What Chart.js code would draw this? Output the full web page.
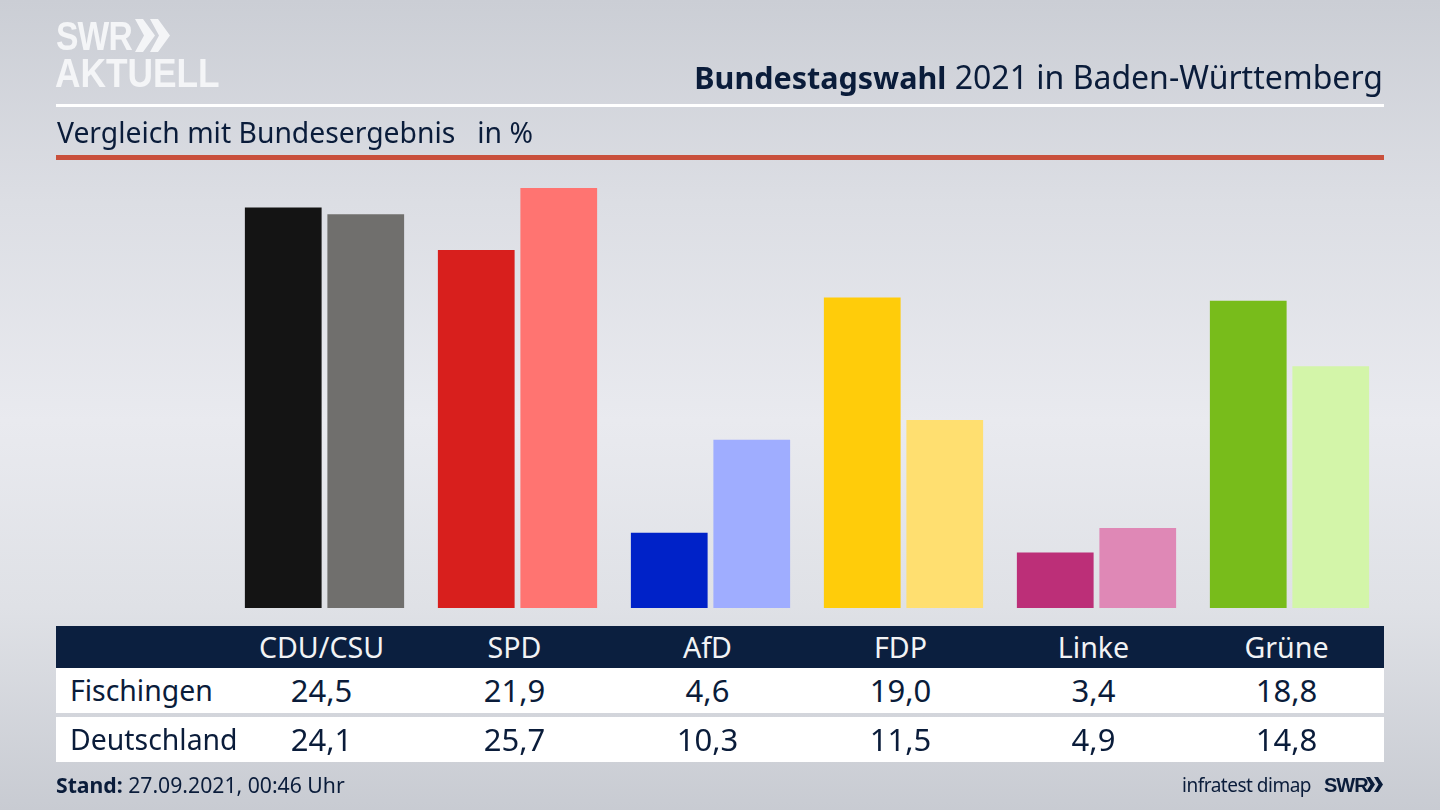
<!DOCTYPE html>
<html lang="de">
<head>
<meta charset="utf-8">
<title>Bundestagswahl 2021 in Baden-Württemberg</title>
<script src="https://cdn.jsdelivr.net/npm/chart.js@4"></script>
<style>
  html, body { margin: 0; padding: 0; }
  body {
    width: 1440px; height: 810px; overflow: hidden; position: relative;
    font-family: "Noto Sans", sans-serif; color: #0a1c3a;
    background: linear-gradient(180deg, #cbced5 0%, #dcdee4 25%, #e9eaef 52%, #dfe1e6 75%, #c8cbd2 100%);
  }
  #chart-wrap { position: absolute; left: 0; top: 0; width: 1440px; height: 810px; }
  .abs { position: absolute; white-space: nowrap; }
  #logo1, #logo2 { color: #f4f5f7; font-family: "Liberation Sans", sans-serif; font-weight: 700; transform-origin: 0 0; }
  #logo1 { left: 56px; top: 13px; font-size: 41px; line-height: 46px; transform: scaleX(0.82); letter-spacing: -1px; }
  #logo2 { left: 55px; top: 50px; font-size: 41px; line-height: 46px; transform: scaleX(0.86); }
  #title { right: 57px; top: 56px; font-size: 32px; line-height: 42px; }
  #title b { font-size: 30.5px; }
  #subtitle { left: 57px; top: 112px; font-size: 28.3px; line-height: 40px; }
  #rule-white { left: 56px; top: 104px; width: 1328px; height: 3px; background: #fff; }
  #rule-red { left: 56px; top: 155px; width: 1328px; height: 5px; background: #c9503c; }
  .row { left: 56px; width: 1328px; }
  #head { top: 626px; height: 42px; background: #0b1f3f; color: #f2f3f5; }
  #row1 { top: 668px; height: 45px; background: #fff; }
  #row2 { top: 717px; height: 45px; background: #fff; }
  .cell { position: absolute; width: 193px; text-align: center; top: 0; }
  #head .cell { line-height: 42px; font-size: 28.6px; }
  #row1 .cell, #row2 .cell { line-height: 45px; font-size: 31px; }
  #row1 .name, #row2 .name { left: 14px; width: auto; font-size: 28.4px; text-align: left; }
  #stand { left: 56px; top: 770px; font-size: 21.2px; line-height: 30px; }
  #source { right: 129px; top: 770px; font-size: 19px; line-height: 30px; letter-spacing: -0.5px; }
  #swr { left: 1324px; top: 770px; font-family: "Liberation Sans", sans-serif; font-weight: 700; font-size: 20px; line-height: 30px; letter-spacing: -1px; }
</style>
</head>
<body>
<div id="chart-wrap"><canvas id="bars"></canvas></div>

<div class="abs" id="logo1">SWR</div>
<svg class="abs" style="left:135px;top:19px" width="36" height="33" viewBox="0 0 36 33" fill="#f4f5f7">
  <polygon points="0,0 8,0 20,16.5 8,33 0,33 9,16.5"/>
  <polygon points="15,0 23,0 35,16.5 23,33 15,33 24,16.5"/>
</svg>
<div class="abs" id="logo2">AKTUELL</div>
<div class="abs" id="rule-white"></div>
<div class="abs" id="title"><b>Bundestagswahl</b> 2021 in Baden-Württemberg</div>
<div class="abs" id="subtitle">Vergleich mit Bundesergebnis &nbsp; in %</div>
<div class="abs" id="rule-red"></div>

<div class="abs row" id="head"></div>
<div class="abs row" id="row1"></div>
<div class="abs row" id="row2"></div>

<div class="abs" id="stand"><b>Stand:</b> 27.09.2021, 00:46 Uhr</div>
<div class="abs" id="source">infratest dimap</div>
<div class="abs" id="swr">SWR</div>
<svg class="abs" style="left:1366px;top:777px" width="18" height="15" viewBox="0 0 18 15" fill="#0a1c3a">
  <polygon points="0,0 4,0 9,7.5 4,15 0,15 4.5,7.5"/>
  <polygon points="8,0 12,0 17,7.5 12,15 8,15 12.5,7.5"/>
</svg>

<script>
// --- Data ---
const parties = ['CDU/CSU', 'SPD', 'AfD', 'FDP', 'Linke', 'Grüne'];
const regionName = 'Fischingen';
const countryName = 'Deutschland';
const regionValues = [24.5, 21.9, 4.6, 19.0, 3.4, 18.8];
const countryValues = [24.1, 25.7, 10.3, 11.5, 4.9, 14.8];
const regionColors = ['#141414', '#d81f1d', '#0022c8', '#ffcc0a', '#bc2f78', '#78bc1b'];
const countryColors = ['#706f6d', '#ff7471', '#9fadff', '#ffdf70', '#df88b6', '#d3f5a9'];

// --- Table under the bars ---
const fmt = v => v.toFixed(1).replace('.', ',');
const plotLeft = 228;
const step = 193;
const labelShift = -3; // table text sits a little left of the bar groups

function fillRow(id, name, cells) {
  const row = document.getElementById(id);
  if (name) {
    const n = document.createElement('div');
    n.className = 'cell name';
    n.textContent = name;
    row.appendChild(n);
  }
  cells.forEach((text, i) => {
    const c = document.createElement('div');
    c.className = 'cell';
    c.style.left = (plotLeft - 56 + labelShift + i * step) + 'px';
    c.textContent = text;
    row.appendChild(c);
  });
}
fillRow('head', null, parties);
fillRow('row1', regionName, regionValues.map(fmt));
fillRow('row2', countryName, countryValues.map(fmt));

// --- Bars ---
new Chart(document.getElementById('bars').getContext('2d'), {
  type: 'bar',
  data: {
    labels: parties,
    datasets: [
      { label: regionName, data: regionValues, backgroundColor: regionColors },
      { label: countryName, data: countryValues, backgroundColor: countryColors }
    ]
  },
  options: {
    responsive: true,
    maintainAspectRatio: false,
    animation: false,
    categoryPercentage: 0.855,
    barPercentage: 0.93,
    layout: { padding: { left: plotLeft, right: 54, top: 188, bottom: 202 } },
    plugins: { legend: { display: false }, tooltip: { enabled: false } },
    scales: {
      x: { display: false },
      y: { display: false, min: 0, max: 25.7 }
    }
  }
});
</script>
</body>
</html>
